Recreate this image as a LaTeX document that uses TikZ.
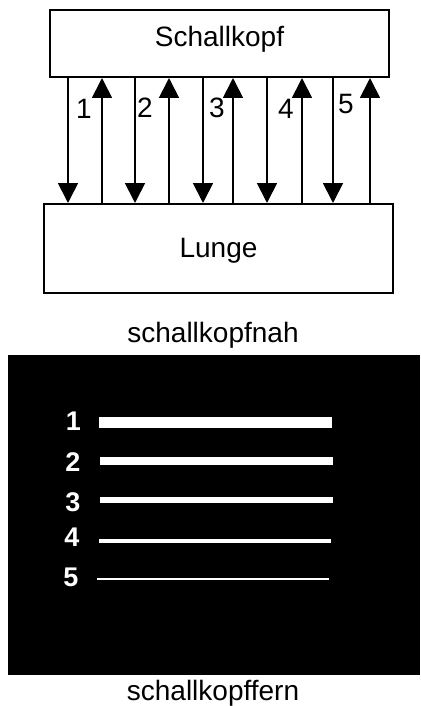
\documentclass[tikz,border=0pt]{standalone}
\usepackage{fontspec}
\setmainfont{Liberation Sans}
\usetikzlibrary{arrows.meta}

\tikzset{
  box/.style={draw, line width=2pt, inner sep=0pt},
  label/.style={font=\fontsize{28}{30}\selectfont, inner sep=0pt},
  caption/.style={font=\fontsize{28}{30}\selectfont, inner sep=0pt, anchor=base},
  arr/.style={line width=1.8pt, -{Triangle[width=20pt,length=20pt]}},
  echonum/.style={text=white, font=\fontsize{27}{29}\selectfont\bfseries, inner sep=0pt},
  echo/.style={draw=white, line cap=butt},
}

\begin{document}
\begin{tikzpicture}[x=1pt, y=-1pt]
  \useasboundingbox (0,0) rectangle (420,706);

  % probe and lung
  \node[box, minimum width=339pt, minimum height=67pt] (probe) at (219.5,43.5) {};
  \node[caption] (probetext) at (219.5,47) {Schallkopf};
  \node[box, minimum width=349pt, minimum height=89pt] (lung) at (218.5,248.5) {};
  \node[caption] (lungtext) at (218.5,257) {Lunge};

  % x positions of the sent and returned pulses
  \coordinate (d1) at (68,0);  \coordinate (u1) at (102,0);
  \coordinate (d2) at (135,0); \coordinate (u2) at (169,0);
  \coordinate (d3) at (203,0); \coordinate (u3) at (233,0);
  \coordinate (d4) at (267,0); \coordinate (u4) at (302,0);
  \coordinate (d5) at (333,0); \coordinate (u5) at (370,0);

  \foreach \i in {1,...,5} {
    \draw[arr] (probe.south -| d\i) -- (lung.north -| d\i);
    \draw[arr] (lung.north -| u\i) -- (probe.south -| u\i);
  }

  \node[label] (n1) at (84,109) {1};
  \node[label] (n2) at (145,108) {2};
  \node[label] (n3) at (217,108) {3};
  \node[label] (n4) at (286,109) {4};
  \node[label] (n5) at (346,104) {5};

  \node[caption] (near) at (213,342) {schallkopfnah};

  % echo screen
  \fill[black] (8,355) rectangle (420,675);
  \draw[echo, line width=11pt] (99,422.5) -- (332,422.5);
  \draw[echo, line width=8pt]  (100,461) -- (333,461);
  \draw[echo, line width=6pt]  (100,500) -- (333,500);
  \draw[echo, line width=4pt]  (99,541) -- (331,541);
  \draw[echo, line width=2.5pt] (97,579) -- (329,579);

  \node[echonum] (e1) at (73.5,421) {1};
  \node[echonum] (e2) at (73,462.5) {2};
  \node[echonum] (e3) at (73,502) {3};
  \node[echonum] (e4) at (72,537.5) {4};
  \node[echonum] (e5) at (71,577.5) {5};

  \node[caption] (far) at (213,700) {schallkopffern};
\end{tikzpicture}
\end{document}
